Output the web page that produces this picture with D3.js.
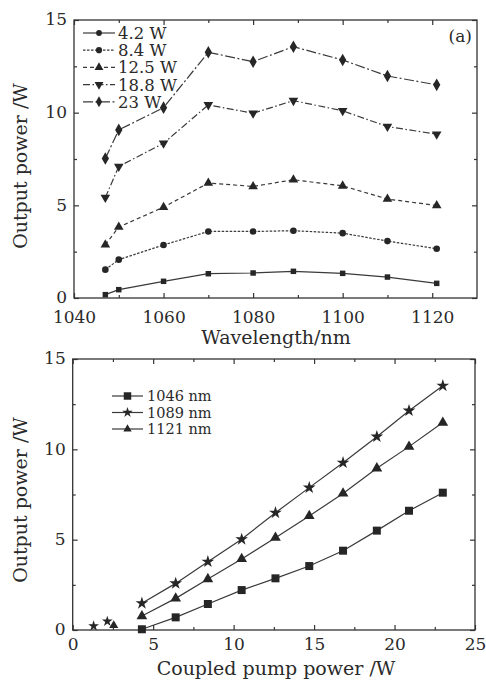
<!DOCTYPE html>
<html>
<head>
<meta charset="utf-8">
<script src="https://cdn.jsdelivr.net/npm/d3@7.9.0/dist/d3.min.js"></script>
<style>
  body { margin: 0; background: #fff; }
  svg { display: block; }
  text { font-family: "DejaVu Serif", serif; fill: #2a2a2a; }
  .axis path, .axis line { stroke: #333; stroke-width: 1.2; }
  .axis text { font-size: 17px; }
</style>
</head>
<body>
<svg id="chart" width="486" height="681"></svg>
<script>
// (a) output power vs wavelength, one series per pump power
const wavelengths = [1047, 1050, 1060, 1070, 1080, 1089, 1100, 1110, 1121];
const pumpLabels = ["4.2 W", "8.4 W", "12.5 W", "18.8 W", "23 W"];
const out42 = [0.18, 0.45, 0.90, 1.31, 1.35, 1.44, 1.33, 1.13, 0.79];
const out84 = [1.53, 2.07, 2.86, 3.59, 3.59, 3.63, 3.50, 3.07, 2.66];
const out125 = [2.87, 3.83, 4.90, 6.20, 6.02, 6.38, 6.05, 5.34, 4.99];
const out188 = [5.42, 7.10, 8.35, 10.42, 9.97, 10.65, 10.10, 9.25, 8.84];
const out23 = [7.53, 9.07, 10.27, 13.26, 12.75, 13.56, 12.84, 11.98, 11.50];

// (b) output power vs coupled pump power, one series per wavelength
const pumpPower = [4.3, 6.4, 8.4, 10.5, 12.6, 14.7, 16.8, 18.9, 20.9, 23.0];
const waveLabels = ["1046 nm", "1089 nm", "1121 nm"];
const out1046 = [0.04, 0.70, 1.44, 2.21, 2.86, 3.54, 4.39, 5.50, 6.60, 7.60];
const out1089 = [1.48, 2.58, 3.78, 5.02, 6.49, 7.88, 9.26, 10.70, 12.14, 13.52];
const out1121 = [0.77, 1.75, 2.82, 3.93, 5.11, 6.31, 7.56, 8.95, 10.15, 11.48];
// isolated points below threshold
const lowPump1089 = [1.3, 2.15];
const lowOut1089 = [0.22, 0.48];
const lowPump1121 = [2.55];
const lowOut1121 = [0.25];

const svg = d3.select("#chart");
const ink = "#262626";

function frame(g, x, y, xMajor, xMinor, yMajor, yMinor, xPad) {
    const [x0, x1] = x.range();
    const [y0, y1] = y.range();
    g.append("rect")
        .attr("x", x0).attr("y", y1)
        .attr("width", x1 - x0).attr("height", y0 - y1)
        .attr("fill", "none").attr("stroke", "#333").attr("stroke-width", 1.3);

    // labelled axes, ticks pointing inward
    g.append("g").attr("class", "axis").attr("transform", `translate(0,${y0})`)
        .call(d3.axisBottom(x).tickValues(xMajor).tickSizeInner(-5).tickSizeOuter(0).tickPadding(xPad).tickFormat(d3.format("d")))
        .call(s => s.select(".domain").remove());
    g.append("g").attr("class", "axis").attr("transform", `translate(${x0},0)`)
        .call(d3.axisLeft(y).tickValues(yMajor).tickSizeInner(-5).tickSizeOuter(0).tickPadding(7).tickFormat(d3.format("d")))
        .call(s => s.select(".domain").remove())
        .call(s => s.selectAll("text").attr("dy", "0.28em"));

    // mirrored and minor ticks
    const bare = (axis, tr) => g.append("g").attr("class", "axis").attr("transform", tr)
        .call(axis.tickFormat("").tickSizeOuter(0))
        .call(s => s.select(".domain").remove());
    bare(d3.axisTop(x).tickValues(xMajor).tickSizeInner(-5), `translate(0,${y1})`);
    bare(d3.axisRight(y).tickValues(yMajor).tickSizeInner(-5), `translate(${x1},0)`);
    bare(d3.axisBottom(x).tickValues(xMinor).tickSizeInner(-3), `translate(0,${y0})`);
    bare(d3.axisTop(x).tickValues(xMinor).tickSizeInner(-3), `translate(0,${y1})`);
    bare(d3.axisLeft(y).tickValues(yMinor).tickSizeInner(-3), `translate(${x0},0)`);
    bare(d3.axisRight(y).tickValues(yMinor).tickSizeInner(-3), `translate(${x1},0)`);
}

function series(g, x, y, xs, ys, sym, size, rotate, dash, drawLine) {
    const pts = xs.map((d, i) => [d, ys[i]]);
    if (drawLine) {
        g.append("path")
            .attr("d", d3.line().x(d => x(d[0])).y(d => y(d[1]))(pts))
            .attr("fill", "none").attr("stroke", "#3a3a3a").attr("stroke-width", 1.2)
            .attr("stroke-dasharray", dash);
    }
    g.selectAll(null).data(pts).enter().append("path")
        .attr("d", d3.symbol().type(sym).size(size)())
        .attr("transform", d => `translate(${x(d[0])},${y(d[1])}) rotate(${rotate})`)
        .attr("fill", ink);
}

function legendRow(g, x0, x1, tx, yy, label, sym, size, rotate, dash, fs) {
    g.append("line").attr("x1", x0).attr("x2", x1).attr("y1", yy).attr("y2", yy)
        .attr("stroke", "#3a3a3a").attr("stroke-width", 1.2).attr("stroke-dasharray", dash);
    g.append("path").attr("d", d3.symbol().type(sym).size(size)())
        .attr("transform", `translate(${(x0 + x1) / 2},${yy}) rotate(${rotate})`).attr("fill", ink);
    g.append("text").attr("x", tx).attr("y", yy + fs * 0.36).attr("font-size", fs).text(label);
}

// ---------- panel (a) ----------
const ga = svg.append("g");
const xa = d3.scaleLinear().domain([1040, 1130]).range([74, 477]);
const ya = d3.scaleLinear().domain([0, 15]).range([298, 20]);
frame(ga, xa, ya, [1040, 1060, 1080, 1100, 1120], [1050, 1070, 1090, 1110],
      [0, 5, 10, 15], [2.5, 7.5, 12.5], 13);

const styleA = [
    { ys: out42, sym: d3.symbolSquare, size: 30, rot: 0, dash: null, lsym: d3.symbolCircle, lsize: 26 },
    { ys: out84, sym: d3.symbolCircle, size: 34, rot: 0, dash: "2.5,1.5", lsym: d3.symbolCircle, lsize: 30 },
    { ys: out125, sym: d3.symbolTriangle, size: 40, rot: 0, dash: "4,3", lsym: d3.symbolTriangle, lsize: 34 },
    { ys: out188, sym: d3.symbolTriangle, size: 40, rot: 180, dash: "7,2.5,1.5,2.5", lsym: d3.symbolTriangle, lsize: 34 },
    { ys: out23, sym: d3.symbolDiamond, size: 46, rot: 0, dash: "10,2.5,2,2.5", lsym: d3.symbolDiamond, lsize: 34 }
];
styleA.forEach(s => series(ga, xa, ya, wavelengths, s.ys, s.sym, s.size, s.rot, s.dash, true));
styleA.forEach((s, i) => legendRow(ga, 83, 115, 118, 33 + i * 17.2, pumpLabels[i], s.lsym, s.lsize, s.rot, s.dash, 16.5));
ga.append("text").attr("x", 472).attr("y", 42).attr("text-anchor", "end").attr("font-size", 17).text("(a)");

ga.append("text").attr("x", 276).attr("y", 344).attr("text-anchor", "middle")
    .attr("font-size", 19).text("Wavelength/nm");
ga.append("text").attr("transform", "translate(27,166) rotate(-90)").attr("text-anchor", "middle")
    .attr("font-size", 19).text("Output power /W");

// ---------- panel (b) ----------
const gb = svg.append("g");
const xb = d3.scaleLinear().domain([0, 25]).range([72.7, 475]);
const yb = d3.scaleLinear().domain([0, 15]).range([630, 359]);
frame(gb, xb, yb, [0, 5, 10, 15, 20, 25], [2.5, 7.5, 12.5, 17.5, 22.5],
      [0, 5, 10, 15], [2.5, 7.5, 12.5], 8);

const styleB = [
    { xs: pumpPower, ys: out1046, sym: d3.symbolSquare, size: 64, lsize: 56 },
    { xs: pumpPower, ys: out1089, sym: d3.symbolStar, size: 50, lsize: 34 },
    { xs: pumpPower, ys: out1121, sym: d3.symbolTriangle, size: 50, lsize: 30 }
];
styleB.forEach(s => series(gb, xb, yb, s.xs, s.ys, s.sym, s.size, 0, null, true));
series(gb, xb, yb, lowPump1089, lowOut1089, d3.symbolStar, 36, 0, null, false);
series(gb, xb, yb, lowPump1121, lowOut1121, d3.symbolTriangle, 36, 0, null, false);
styleB.forEach((s, i) => legendRow(gb, 112, 143, 147, 396 + i * 16.5, waveLabels[i], s.sym, s.lsize, 0, null, 14.5));

gb.append("text").attr("x", 276).attr("y", 675).attr("text-anchor", "middle")
    .attr("font-size", 19).text("Coupled pump power /W");
gb.append("text").attr("transform", "translate(27,500) rotate(-90)").attr("text-anchor", "middle")
    .attr("font-size", 19).text("Output power /W");
</script>
</body>
</html>
